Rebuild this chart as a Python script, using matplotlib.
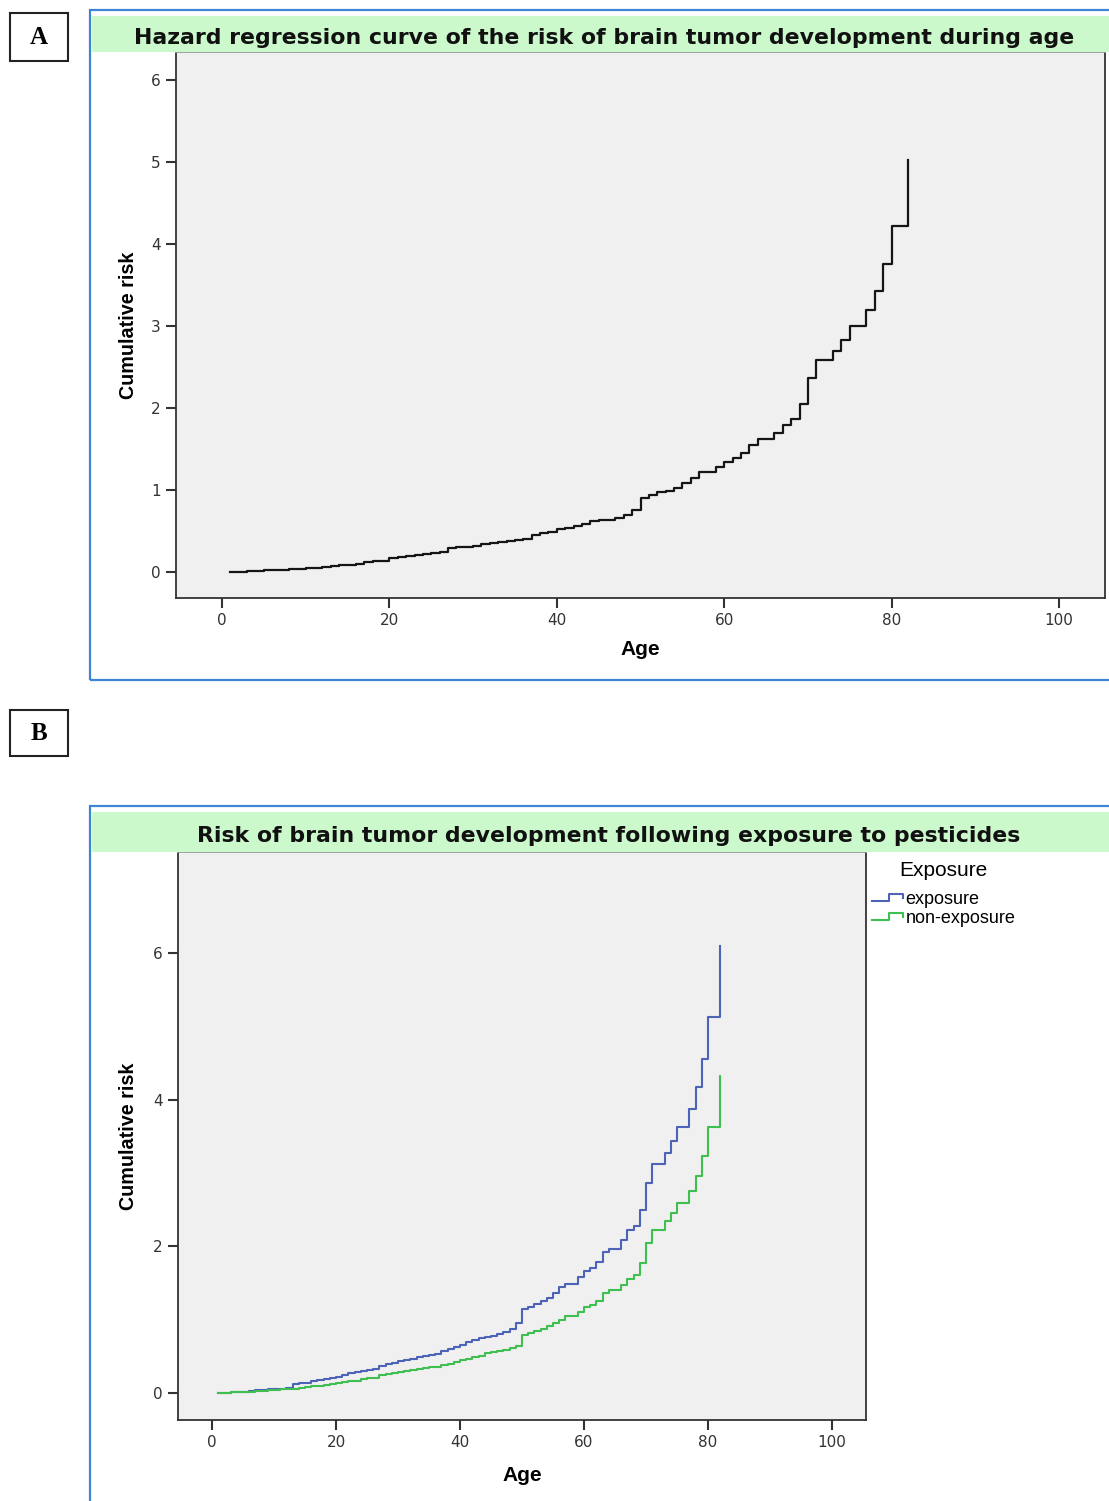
import matplotlib.pyplot as plt
from matplotlib.patches import Rectangle
from matplotlib.lines import Line2D
from matplotlib.legend_handler import HandlerBase

# ages at which the cumulative risk steps (years)
ages = list(range(1, 83))

# panel A: overall cumulative risk
risk_all = [0.00, 0.00, 0.01, 0.01, 0.02, 0.025, 0.03, 0.035, 0.04, 0.045,
            0.05, 0.06, 0.07, 0.08, 0.09, 0.10, 0.12, 0.13, 0.14, 0.17,
            0.18, 0.20, 0.21, 0.22, 0.23, 0.24, 0.29, 0.30, 0.31, 0.32,
            0.34, 0.35, 0.37, 0.38, 0.39, 0.40, 0.45, 0.47, 0.49, 0.52,
            0.54, 0.56, 0.59, 0.62, 0.63, 0.64, 0.66, 0.70, 0.75, 0.90,
            0.94, 0.97, 0.99, 1.03, 1.08, 1.15, 1.22, 1.22, 1.28, 1.34,
            1.39, 1.45, 1.55, 1.62, 1.62, 1.70, 1.79, 1.86, 2.05, 2.37,
            2.58, 2.58, 2.70, 2.83, 3.00, 3.00, 3.20, 3.43, 3.75, 4.22,
            4.22, 5.02]

# panel B: by pesticide exposure
risk_exposed = [0.00, 0.00, 0.01, 0.02, 0.02, 0.03, 0.04, 0.04, 0.05, 0.06,
                0.06, 0.07, 0.12, 0.13, 0.14, 0.16, 0.18, 0.19, 0.20, 0.22,
                0.24, 0.27, 0.28, 0.30, 0.32, 0.33, 0.37, 0.39, 0.41, 0.43,
                0.45, 0.47, 0.49, 0.50, 0.52, 0.53, 0.58, 0.60, 0.63, 0.66,
                0.69, 0.72, 0.75, 0.77, 0.78, 0.80, 0.83, 0.87, 0.95, 1.14,
                1.18, 1.22, 1.26, 1.30, 1.37, 1.44, 1.49, 1.49, 1.58, 1.66,
                1.71, 1.79, 1.92, 1.97, 1.97, 2.09, 2.22, 2.28, 2.50, 2.87,
                3.13, 3.13, 3.27, 3.44, 3.63, 3.63, 3.88, 4.17, 4.55, 5.13,
                5.13, 6.10]
risk_unexposed = [0.00, 0.00, 0.01, 0.01, 0.02, 0.02, 0.03, 0.03, 0.04, 0.04,
                  0.05, 0.05, 0.06, 0.07, 0.08, 0.09, 0.10, 0.11, 0.12, 0.13,
                  0.15, 0.16, 0.17, 0.19, 0.20, 0.21, 0.25, 0.26, 0.27, 0.28,
                  0.30, 0.31, 0.33, 0.34, 0.35, 0.36, 0.38, 0.40, 0.42, 0.45,
                  0.47, 0.49, 0.51, 0.55, 0.56, 0.57, 0.59, 0.61, 0.64, 0.79,
                  0.82, 0.85, 0.88, 0.91, 0.95, 0.99, 1.05, 1.05, 1.11, 1.17,
                  1.20, 1.26, 1.36, 1.40, 1.40, 1.47, 1.56, 1.61, 1.77, 2.04,
                  2.22, 2.22, 2.34, 2.45, 2.59, 2.59, 2.75, 2.96, 3.23, 3.63,
                  3.63, 4.32]

x_ticks = [0, 20, 40, 60, 80, 100]
y_ticks_a = [0, 1, 2, 3, 4, 5, 6]
y_ticks_b = [0, 2, 4, 6]

title_a = "Hazard regression curve of the risk of brain tumor development during age"
title_b = "Risk of brain tumor development following exposure to pesticides"

W, H = 1109, 1501
fig = plt.figure(figsize=(W / 100, H / 100), dpi=100)

def fx(px):
    return px / W

def fy(py):
    return 1 - py / H

frame_blue = '#3f83d4'
bar_green = '#ccf9cc'
plot_bg = '#f0f0f0'


def add_rect(x0, y0, x1, y1, **kw):
    fig.add_artist(Rectangle((fx(x0), fy(y1)), fx(x1) - fx(x0), fy(y0) - fy(y1),
                             transform=fig.transFigure, **kw))


def panel_frame(top, bottom, bar_top, bar_bottom, title, title_x, title_y):
    add_rect(90, top, 1120, bottom, fill=False, ec=frame_blue, lw=1.6)
    add_rect(92, bar_top, 1112, bar_bottom, fc=bar_green, ec='none')
    fig.text(fx(title_x), fy(title_y), title, ha='center', va='center',
             fontsize=15.8, fontweight='bold', color='#111111')


def letter_box(y0, y1, letter):
    add_rect(10, y0, 68, y1, fill=False, ec='#222222', lw=1.5)
    fig.text(fx(39), fy((y0 + y1) / 2), letter, ha='center', va='center',
             fontsize=18, fontweight='bold', family='Liberation Serif')


def style_axes(ax, yticks, ylim, ylab_x, xlab_y):
    ax.set_facecolor(plot_bg)
    ax.set_xlim(-5.5, 105.5)
    ax.set_ylim(*ylim)
    ax.set_xticks(x_ticks)
    ax.set_yticks(yticks)
    for s in ax.spines.values():
        s.set_color('#333333')
        s.set_linewidth(1.3)
    ax.spines['top'].set_color('#9a9a9a')
    ax.tick_params(direction='out', length=7, width=1.5, color='#333333',
                   labelsize=11, labelcolor='#333333', pad=4)
    ax.set_ylabel('Cumulative risk', fontsize=14.2, fontweight='bold', family='Liberation Sans')
    ax.set_xlabel('Age', fontsize=15, fontweight='bold', family='Liberation Sans')
    ax.yaxis.set_label_coords(ylab_x, 0.5)
    ax.xaxis.set_label_coords(0.5, xlab_y)


# ---- panel A ----
letter_box(13, 61, 'A')
panel_frame(10, 680, 16, 52, title_a, 604, 38)
ax_a = fig.add_axes([fx(176), fy(598), (1105 - 176) / W, (598 - 52) / H])
ax_a.step(ages, risk_all, where='post', color='#151515', lw=1.6)
style_axes(ax_a, y_ticks_a, (-0.317, 6.34), (138 - 176) / 929, -(640 - 598) / 546)

# ---- panel B ----
letter_box(710, 756, 'B')
panel_frame(806, 1520, 812, 852, title_b, 609, 836)
ax_b = fig.add_axes([fx(178), fy(1420), (866 - 178) / W, (1420 - 852) / H])
ax_b.step(ages, risk_exposed, where='post', color='#4c63b8', lw=1.5, label='exposure')
ax_b.step(ages, risk_unexposed, where='post', color='#3fbf4f', lw=1.5, label='non-exposure')
style_axes(ax_b, y_ticks_b, (-0.368, 7.38), (138 - 178) / 688, -(1466 - 1420) / 568)


class StepHandler(HandlerBase):
    def create_artists(self, legend, orig_handle, xdescent, ydescent,
                       width, height, fontsize, trans):
        x0, y0 = -xdescent, -ydescent
        xs = [x0, x0 + 0.55 * width, x0 + 0.55 * width, x0 + width, x0 + width]
        ys = [y0 + 0.25 * height, y0 + 0.25 * height, y0 + 0.8 * height,
              y0 + 0.8 * height, y0 + 0.5 * height]
        line = Line2D(xs, ys, color=orig_handle.get_color(),
                      lw=orig_handle.get_linewidth(), transform=trans)
        return [line]


handles, labels = ax_b.get_legend_handles_labels()
leg = fig.legend(handles, labels, loc='upper left', bbox_to_anchor=(fx(872), fy(861)),
                 title='Exposure', frameon=False, title_fontsize=15,
                 labelspacing=0.1, handlelength=1.7, handletextpad=0.15,
                 borderaxespad=0, borderpad=0,
                 prop={'family': 'Liberation Sans', 'size': 13},
                 handler_map={Line2D: StepHandler()})
leg.get_title().set_family('Liberation Sans')
leg._legend_box.sep = 8

fig.savefig('out.png', dpi=100)
